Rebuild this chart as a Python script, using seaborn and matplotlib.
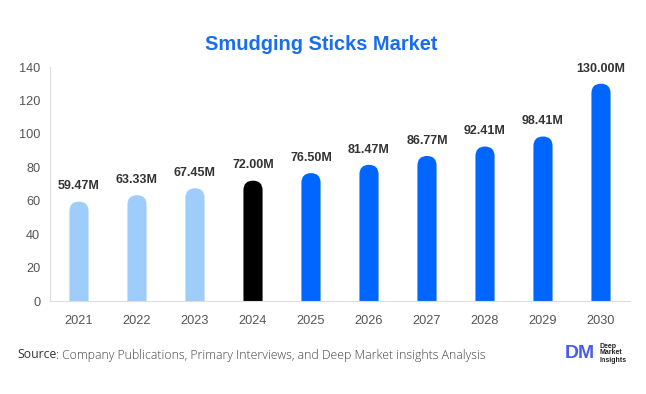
import pandas as pd
import seaborn as sns
import matplotlib.pyplot as plt
from matplotlib.patches import FancyBboxPatch

# Chart data
years = ["2021", "2022", "2023", "2024", "2025", "2026", "2027", "2028", "2029", "2030"]
values = [59.47, 63.33, 67.45, 72.00, 76.50, 81.47, 86.77, 92.41, 98.41, 130.00]
labels = ["59.47M", "63.33M", "67.45M", "72.00M", "76.50M", "81.47M", "86.77M", "92.41M", "98.41M", "130.00M"]
bar_colors = ["#9fcdfb"] * 3 + ["#000000"] + ["#0066ff"] * 6

df = pd.DataFrame({"year": years, "value": values})

sns.set_style("white")
plt.rcParams['font.family'] = ['Liberation Sans', 'DejaVu Sans']

W, H = 646, 394
fig = plt.figure(figsize=(W / 100, H / 100), dpi=100)
ax = fig.add_axes([50 / W, 93 / H, 580 / W, 234 / H])

sns.barplot(data=df, x="year", y="value", hue="year", palette=bar_colors,
            legend=False, width=0.33, ax=ax, saturation=1)

ax.set_xlim(-0.5, 9.5)
ax.set_ylim(0, 140)

# swap plain bars for bars with rounded tops
px_per_x = 580 / 10
px_per_y = 234 / 140
for patch in list(ax.patches):
    x0 = patch.get_x()
    w = patch.get_width()
    h = patch.get_height()
    c = patch.get_facecolor()
    patch.remove()
    rounded = FancyBboxPatch((x0, -20), w, h + 20,
                             boxstyle=f"round,pad=0,rounding_size={w / 2}",
                             mutation_aspect=px_per_x / px_per_y,
                             facecolor=c, edgecolor="none")
    ax.add_patch(rounded)

for i, (v, lab) in enumerate(zip(values, labels)):
    ax.text(i, v + 5.5, lab, ha="center", va="bottom", fontsize=9,
            fontweight="bold", color="#333333")

ax.set_yticks(range(0, 141, 20))
ax.tick_params(axis="both", length=0, labelsize=9.2, labelcolor="#555555")
ax.tick_params(axis="x", pad=10)
ax.tick_params(axis="y", pad=7)
ax.set_xlabel("")
ax.set_ylabel("")
for s in ["top", "right"]:
    ax.spines[s].set_visible(False)
for s in ["left", "bottom"]:
    ax.spines[s].set_color("#dddddd")
    ax.spines[s].set_linewidth(0.8)

fig.text(321 / W, 1 - 45 / H, "Smudging Sticks Market", ha="center", va="center",
         fontsize=14.4, fontweight="bold", color="#1a6cf0")

# footer
fig.canvas.draw()
renderer = fig.canvas.get_renderer()
src = fig.text(17 / W, 1 - 355 / H, "Source", ha="left", va="center", fontsize=8.8,
               fontweight="medium", color="#333333", family=["Open Sans", "DejaVu Sans"])
bb = src.get_window_extent(renderer=renderer)
fig.text(bb.x1 / W, 1 - 355 / H,
         ": Company Publications, Primary Interviews, and Deep Market insights Analysis",
         ha="left", va="center", fontsize=8.8, color="#444444",
         family=["Open Sans", "DejaVu Sans"], fontweight="light")
fig.text(580 / W, 1 - 353 / H, "DM", ha="center", va="center", fontsize=14,
         fontweight="bold", color="#4a5cf0")
fig.text(600 / W, 1 - 353 / H, "Deep\nMarket\nInsights", ha="left", va="center",
         fontsize=5, fontweight="bold", color="#222222", linespacing=1.0)

fig.savefig("out.png", dpi=100)
